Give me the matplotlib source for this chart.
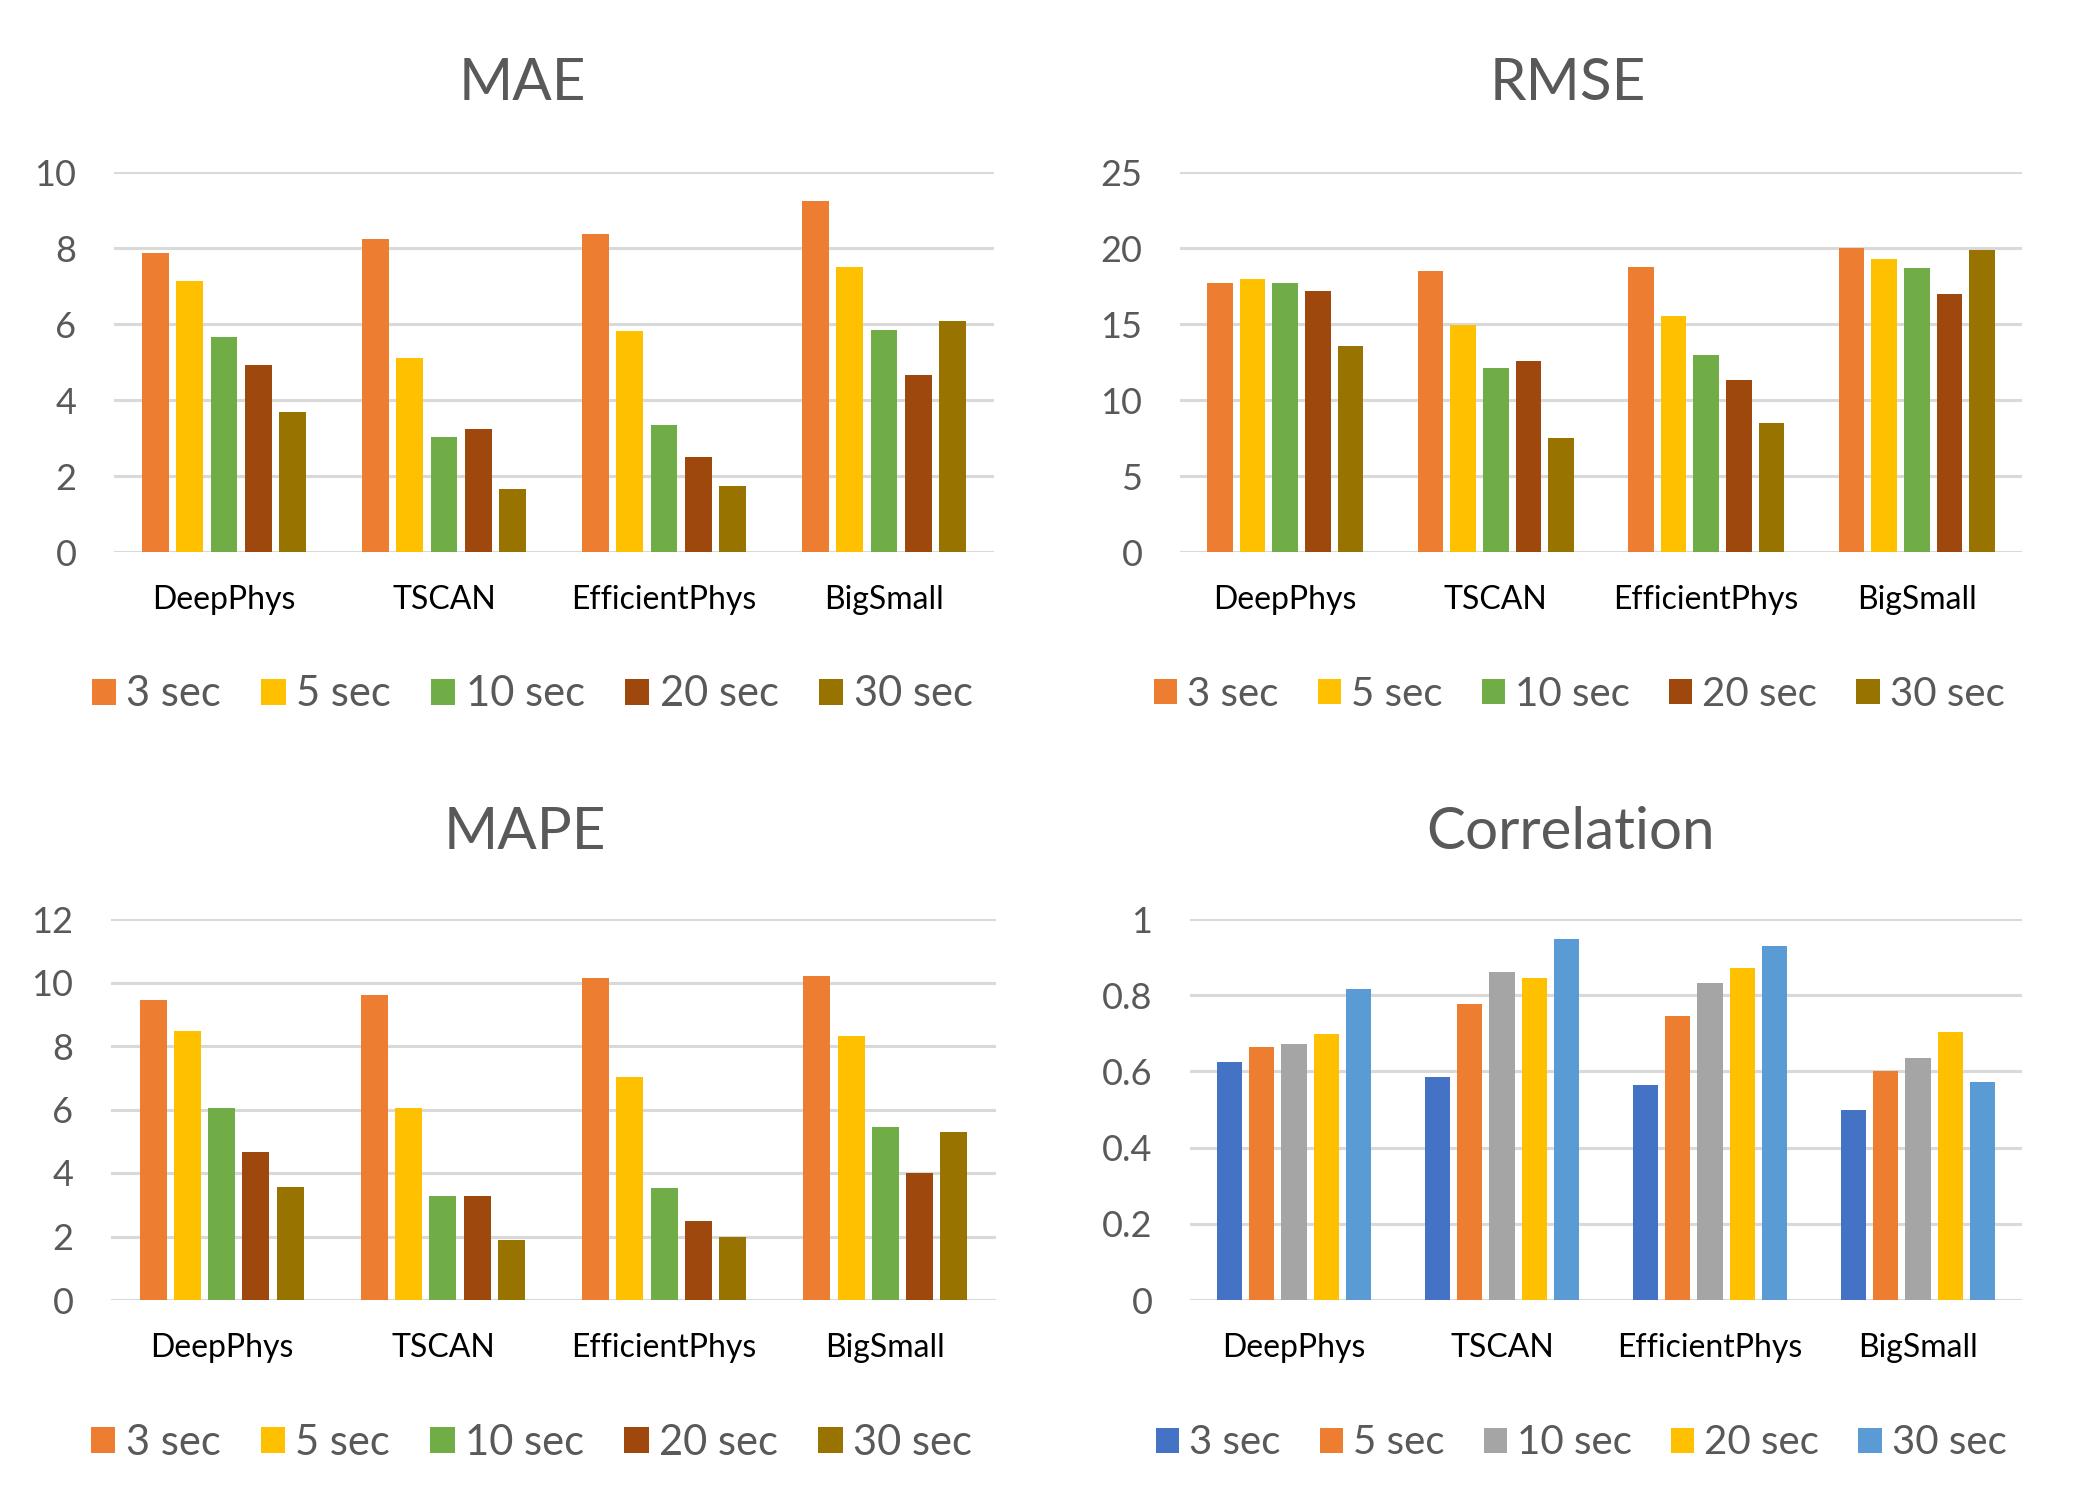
import matplotlib
matplotlib.use("Agg")
import matplotlib.pyplot as plt
import numpy as np
from matplotlib.patches import Patch

plt.rcParams['font.family'] = ['Lato', 'DejaVu Sans']

models = ["DeepPhys", "TSCAN", "EfficientPhys", "BigSmall"]
windows = ["3 sec", "5 sec", "10 sec", "20 sec", "30 sec"]

# rows: window length, cols: models
mae = [
    [7.86, 8.23, 8.36, 9.23],
    [7.12, 5.10, 5.81, 7.51],
    [5.65, 3.02, 3.33, 5.83],
    [4.91, 3.25, 2.49, 4.65],
    [3.68, 1.65, 1.75, 6.07],
]
rmse = [
    [17.68, 18.46, 18.73, 19.98],
    [17.94, 14.91, 15.50, 19.25],
    [17.68, 12.08, 12.94, 18.66],
    [17.15, 12.57, 11.32, 16.95],
    [13.57, 7.48, 8.46, 19.85],
]
mape = [
    [9.46, 9.61, 10.15, 10.21],
    [8.47, 6.05, 7.03, 8.32],
    [6.05, 3.28, 3.53, 5.45],
    [4.65, 3.26, 2.49, 4.00],
    [3.57, 1.89, 1.99, 5.30],
]
corr = [
    [0.625, 0.586, 0.565, 0.499],
    [0.663, 0.776, 0.746, 0.602],
    [0.672, 0.860, 0.833, 0.636],
    [0.699, 0.846, 0.872, 0.704],
    [0.817, 0.948, 0.930, 0.573],
]

titles = ["MAE", "RMSE", "MAPE", "Correlation"]
ylims = [(0, 10, 2), (0, 25, 5), (0, 12, 2), (0, 1, 0.2)]
warm_colors = ["#ED7D31", "#FFC000", "#70AD47", "#9E480E", "#997300"]
corr_colors = ["#4472C4", "#ED7D31", "#A5A5A5", "#FFC000", "#5B9BD5"]

W, H = 2076, 1507
fig = plt.figure(figsize=(W / 100, H / 100), dpi=100)

# axes rectangles in pixels: (x0, x1, ytop, ybottom)
rects = [
    (114, 994, 172, 552),
    (1180, 2022, 172, 552),
    (111, 996, 919, 1300),
    (1190, 2022, 919, 1300),
]
title_pos = [(522, 83), (1568, 83), (525, 833), (1571, 833)]
legend_x = [0.475, 0.474, 0.475, 0.470]
legend_fs = [30, 29, 30, 29]

datasets = [mae, rmse, mape, corr]
GRAY = "#595959"

for i, (data, rect) in enumerate(zip(datasets, rects)):
    x0, x1, yt, yb = rect
    ax = fig.add_axes([x0 / W, 1 - yb / H, (x1 - x0) / W, (yb - yt) / H])
    colors = corr_colors if i == 3 else warm_colors
    x = np.arange(len(models))
    step = 0.155
    width = 0.122
    for j, (w, vals) in enumerate(zip(windows, data)):
        ax.bar(x + (j - 2) * step, vals, width=width, color=colors[j],
               zorder=3, label=w)
    lo, hi, st = ylims[i]
    ax.set_ylim(lo, hi)
    ax.set_xlim(-0.5, len(models) - 0.5)
    ticks = np.arange(lo, hi + st / 2, st)
    ax.set_yticks(ticks)
    if i == 3:
        ax.set_yticklabels(["0" if t == 0 else ("1" if abs(t - 1) < 1e-9 else f"{t:.1f}") for t in ticks])
    else:
        ax.set_yticklabels([f"{int(round(t))}" for t in ticks])
    ax.set_xticks(x)
    ax.set_xticklabels(models)
    for s in ax.spines.values():
        s.set_visible(False)
    ax.grid(axis='y', color="#D9D9D9", linewidth=2.2, zorder=0)
    ax.tick_params(axis='y', length=0, pad=27, labelsize=26, labelcolor=GRAY)
    ax.tick_params(axis='x', length=0, pad=24, labelsize=23, labelcolor="black")
    handles = [Patch(facecolor=c, edgecolor='none') for c in colors]
    ax.legend(handles, windows, loc='center', bbox_to_anchor=(legend_x[i], -0.375),
              ncol=5, frameon=False, fontsize=legend_fs[i], labelcolor=GRAY,
              handlelength=0.58, handleheight=0.58, handletextpad=0.25,
              columnspacing=0.97)
    tx, ty = title_pos[i]
    fig.text(tx / W, 1 - ty / H, titles[i], ha='center', va='center',
             fontsize=42, color=GRAY)

fig.savefig("out.png", dpi=100, facecolor="white")
